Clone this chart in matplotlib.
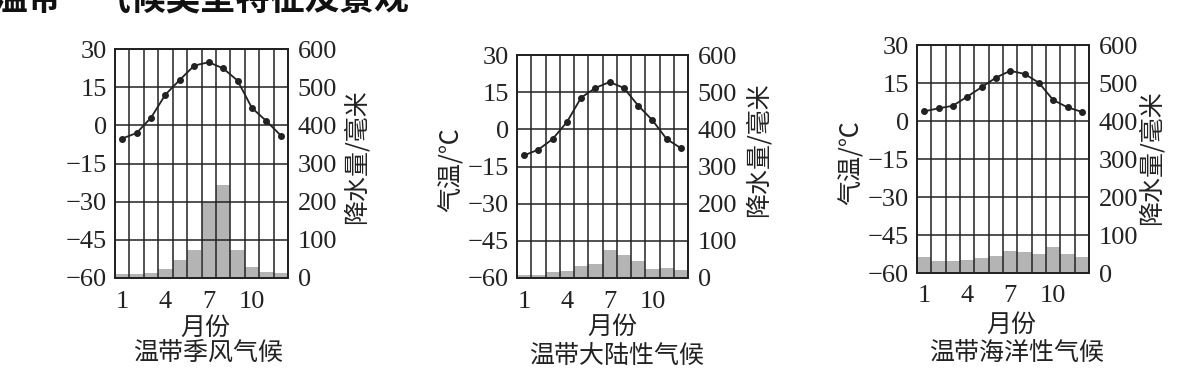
import numpy as np
import matplotlib
matplotlib.use('Agg')
import matplotlib.pyplot as plt

# monthly climate data
months = np.arange(1, 13)

monsoon_temp = [-5.2, -3, 3, 12.1, 17.9, 23.5, 24.8, 22.4, 17.6, 6.8, 1.7, -4]
monsoon_prec = [10, 10, 13, 24, 46, 74, 199, 244, 74, 29, 16, 13]

continental_temp = [-10.5, -8.2, -3.9, 2.9, 12.8, 16.7, 19.1, 16.7, 9.6, 3.7, -3.9, -7.6]
continental_prec = [7, 9, 16, 20, 31, 38, 75, 62, 47, 24, 27, 22]

oceanic_temp = [3.8, 5, 6, 9.6, 13.3, 17.1, 19.8, 18.6, 15.1, 8.3, 5.4, 3.6]
oceanic_prec = [43, 31, 31, 35, 40, 44, 58, 55, 49, 68, 49, 43]

climate_names = ['温带季风气候', '温带大陆性气候', '温带海洋性气候']
temp_ticks = [-60, -45, -30, -15, 0, 15, 30]
prec_ticks = [0, 100, 200, 300, 400, 500, 600]
month_ticks = [1, 4, 7, 10]

plt.rcParams['font.family'] = ['Liberation Serif', 'Noto Sans CJK SC']
CJK = ['Noto Sans CJK SC', 'DejaVu Sans']

W, H = 1197, 385
fig = plt.figure(figsize=(W / 100, H / 100), dpi=100)


def px(x, y):
    return x / W, 1 - y / H


# pixel boxes: left, top, right, bottom
boxes = [(115, 49, 288, 278), (517, 55, 688, 278), (917, 45, 1089, 273)]
# label positions (pixels)
month_lab = [(205, 328), (612, 327), (1011, 325)]
name_lab = [(208, 353), (617, 356), (1017, 353)]
left_lab = [None, (452, 170), (852, 163)]
right_lab = [(357, 157), (759, 150), (1152, 158)]

temps = [monsoon_temp, continental_temp, oceanic_temp]
precs = [monsoon_prec, continental_prec, oceanic_prec]

for i in range(3):
    l, t, r, b = boxes[i]
    x0, y0 = px(l, b)
    ax = fig.add_axes([x0, y0, (r - l) / W, (b - t) / H])
    ax2 = ax.twinx()

    ax2.bar(months, precs[i], width=1.0, color='#b4b4b4', edgecolor='none')
    ax2.set_ylim(0, 600)
    ax2.set_yticks(prec_ticks)

    ax.set_zorder(ax2.get_zorder() + 1)
    ax.patch.set_visible(False)
    ax.plot(months, temps[i], color='#222222', lw=1.3, marker='o', ms=4)
    ax.set_xlim(0.5, 12.5)
    ax.set_ylim(-60, 30)
    ax.set_yticks(temp_ticks)
    ax.set_xticks(month_ticks)
    ax.set_xticks(np.arange(0.5, 13, 1), minor=True)
    ax.grid(which='minor', axis='x', color='#222222', lw=1.1)
    ax.grid(which='major', axis='y', color='#222222', lw=1.1)

    for a in (ax, ax2):
        for s in a.spines.values():
            s.set_linewidth(1.3)
            s.set_color('#222222')
    ax.tick_params(which='both', length=0, labelsize=19, colors='#222222')
    ax.tick_params(axis='x', pad=9)
    ax.tick_params(axis='y', pad=6)
    ax2.tick_params(length=0, labelsize=19, colors='#222222', pad=7)

    fig.text(*px(*month_lab[i]), '月份', family=CJK, fontsize=18,
             ha='center', va='center', color='#222222')
    fig.text(*px(*name_lab[i]), climate_names[i], family=CJK, fontsize=18,
             ha='center', va='center', color='#222222')
    if left_lab[i]:
        fig.text(*px(*left_lab[i]), '气温/℃', family=CJK, fontsize=18,
                 rotation=90, ha='center', va='center', color='#222222')
    fig.text(*px(*right_lab[i]), '降水量/毫米', family=CJK, fontsize=18,
             rotation=90, ha='center', va='center', color='#222222')

# title cut off at the top edge, as in the source picture
fig.text(-8 / W, 1.0, '温带“气候类型特征及景观', family=CJK, fontsize=25,
         fontweight='bold', ha='left', va='center', color='#111111')

fig.savefig('out.png', dpi=100, facecolor='white')
